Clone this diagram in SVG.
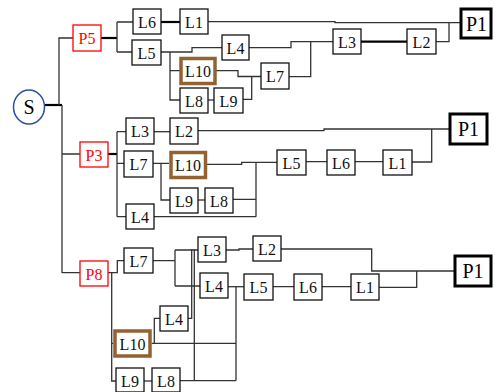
<svg xmlns="http://www.w3.org/2000/svg" width="495" height="392" viewBox="0 0 495 392">
<style>
.b{fill:#fff;stroke:#111;stroke-width:1.3}
.r{fill:#fff;stroke:#ff0000;stroke-width:1.3}
.br{fill:#fff;stroke:#946232;stroke-width:3.5}
.pb{fill:#fff;stroke:#000;stroke-width:3}
.t{font-family:"Liberation Serif","Times New Roman",serif;font-size:16px;fill:#111;text-anchor:middle}
.tr{font-family:"Liberation Serif","Times New Roman",serif;font-size:16px;fill:#ff0000;text-anchor:middle}
.tp{font-family:"Liberation Serif","Times New Roman",serif;font-size:20px;fill:#000;text-anchor:middle}
#connectors path{fill:none;stroke:#333;stroke-width:1.3}
#connectors path.k{stroke:#000;stroke-width:2.2}
</style>
<rect width="495" height="392" fill="#fff"/>
<g id="connectors">
<path class="k" d="M44,105 H62"/>
<path d="M59,105 V38 H73"/>
<path d="M62,105 V273 M62,154 H80 M62,272.7 H80"/>
<path class="k" d="M101,38 H117"/>
<path d="M117,22 V52 M117,22 H133 M117,52 H132"/>
<path class="k" d="M161,22 H180"/>
<path d="M208,21.7 H335 V22.7 H461"/>
<path d="M161,52 H192 V47.7 H222"/>
<path d="M170,52 V100 H180 M170,70.7 H181"/>
<path d="M215,70.7 H238 V76.5 H261"/>
<path d="M208,100 H214"/>
<path d="M243,99.3 H251.7 V76.5"/>
<path d="M249,47.7 H291 V41.7 H333"/>
<path d="M289,76.7 H310.7 V41.7"/>
<path class="k" d="M361,41.7 H407"/>
<path d="M436,41.7 H449 V22.7"/>
<path class="k" d="M108,154 H117"/>
<path d="M117,131.7 V216.7 M117,131.7 H126 M117,163.3 H124 M117,216.7 H126"/>
<path d="M154,131.7 H170"/>
<path d="M198,130.7 H324 V129 H450"/>
<path d="M153,163.3 H169 M161,163.3 V200 H170"/>
<path d="M207,164.3 H241.7 V162.3 H277"/>
<path d="M198,200 H205"/>
<path d="M233,199.3 H256 M256,162.3 V216.7 M154,216.7 H256"/>
<path d="M306,161.7 H327 M355,161.7 H383"/>
<path d="M412,162 H431.7 V129"/>
<path d="M108,272.7 H117.3 V260.7 H124"/>
<path d="M111.7,272.7 V381.7 M111.7,343.3 H113.3 M111.7,381 H116"/>
<path d="M153,260.7 H175 M175,250 V286 M175,250 H198 M175,286 H200"/>
<path d="M226,250 H239 V249 H253"/>
<path d="M281,249 H371.7 V271 H455"/>
<path d="M228,286.7 H244"/>
<path d="M273,286.7 H294 M322,286.7 H351"/>
<path d="M379,287.3 H416.7 V271"/>
<path d="M236,286.7 V380.7"/>
<path d="M151.7,343.3 H236"/>
<path d="M154.3,343.3 V318.3 H160"/>
<path d="M188,318.3 H191.7 V249.3"/>
<path d="M180,380.7 H236 M194.3,380.7 V249.3"/>
<path d="M144,381 H152"/>
</g>
<g id="S"><ellipse cx="29" cy="107" rx="15.5" ry="17" fill="#fff" stroke="#2e4e9e" stroke-width="1.5"/><text class="tp" x="29" y="114">S</text></g>
<g id="P5"><rect class="r" x="73" y="25" width="28" height="26"/><text class="tr" x="87" y="43.5">P5</text></g>
<g id="t-L6"><rect class="b" x="133" y="9" width="28" height="25"/><text class="t" x="147" y="27.5">L6</text></g>
<g id="t-L1"><rect class="b" x="180" y="9" width="28" height="25"/><text class="t" x="194" y="27.5">L1</text></g>
<g id="t-L5"><rect class="b" x="132" y="40" width="29" height="25"/><text class="t" x="146.5" y="58.5">L5</text></g>
<g id="t-L4"><rect class="b" x="222" y="35" width="27" height="25"/><text class="t" x="235.5" y="53.5">L4</text></g>
<g id="t-L10"><rect class="br" x="181" y="58.5" width="34" height="25"/><text class="t" x="198" y="77">L10</text></g>
<g id="t-L8"><rect class="b" x="180" y="88" width="28" height="25"/><text class="t" x="194" y="106.5">L8</text></g>
<g id="t-L9"><rect class="b" x="214" y="88" width="29" height="25"/><text class="t" x="228.5" y="106.5">L9</text></g>
<g id="t-L7"><rect class="b" x="261" y="63" width="28" height="26"/><text class="t" x="275" y="82">L7</text></g>
<g id="t-L3"><rect class="b" x="333" y="29" width="28" height="25"/><text class="t" x="347" y="47.5">L3</text></g>
<g id="t-L2"><rect class="b" x="407" y="29" width="29" height="25"/><text class="t" x="421.5" y="47.5">L2</text></g>
<g id="t-P1"><rect class="pb" x="461" y="9" width="30" height="29"/><text class="tp" x="476.5" y="30.5">P1</text></g>
<g id="P3"><rect class="r" x="80" y="142" width="28" height="25"/><text class="tr" x="94" y="160.5">P3</text></g>
<g id="m-L3"><rect class="b" x="126" y="118" width="28" height="26"/><text class="t" x="140" y="137">L3</text></g>
<g id="m-L2"><rect class="b" x="170" y="118" width="28" height="26"/><text class="t" x="184" y="137">L2</text></g>
<g id="m-L7"><rect class="b" x="124" y="151" width="29" height="26"/><text class="t" x="138.5" y="170">L7</text></g>
<g id="m-L10"><rect class="br" x="171" y="152.5" width="34.5" height="25"/><text class="t" x="188" y="171">L10</text></g>
<g id="m-L9"><rect class="b" x="170" y="188" width="28" height="25"/><text class="t" x="184" y="206.5">L9</text></g>
<g id="m-L8"><rect class="b" x="205" y="188" width="28" height="25"/><text class="t" x="219" y="206.5">L8</text></g>
<g id="m-L4"><rect class="b" x="126" y="204" width="28" height="25"/><text class="t" x="140" y="222.5">L4</text></g>
<g id="m-L5"><rect class="b" x="277" y="150" width="29" height="25"/><text class="t" x="291.5" y="168.5">L5</text></g>
<g id="m-L6"><rect class="b" x="327" y="150" width="28" height="25"/><text class="t" x="341" y="168.5">L6</text></g>
<g id="m-L1"><rect class="b" x="383" y="150" width="29" height="25"/><text class="t" x="397.5" y="168.5">L1</text></g>
<g id="m-P1"><rect class="pb" x="450" y="114" width="37" height="30"/><text class="tp" x="468.5" y="136">P1</text></g>
<g id="P8"><rect class="r" x="80" y="261" width="28" height="25"/><text class="tr" x="94" y="279.5">P8</text></g>
<g id="b-L7"><rect class="b" x="124" y="248" width="29" height="25"/><text class="t" x="138.5" y="266.5">L7</text></g>
<g id="b-L3"><rect class="b" x="198" y="237" width="28" height="25"/><text class="t" x="212" y="255.5">L3</text></g>
<g id="b-L4"><rect class="b" x="200" y="273" width="28" height="25"/><text class="t" x="214" y="291.5">L4</text></g>
<g id="b-L2"><rect class="b" x="253" y="236" width="28" height="25"/><text class="t" x="267" y="254.5">L2</text></g>
<g id="b-L5"><rect class="b" x="244" y="274" width="29" height="26"/><text class="t" x="258.5" y="293">L5</text></g>
<g id="b-L6"><rect class="b" x="294" y="274" width="28" height="26"/><text class="t" x="308" y="293">L6</text></g>
<g id="b-L1"><rect class="b" x="351" y="274" width="28" height="26"/><text class="t" x="365" y="293">L1</text></g>
<g id="b-P1"><rect class="pb" x="455" y="256" width="36" height="30"/><text class="tp" x="473" y="278">P1</text></g>
<g id="b-L4b"><rect class="b" x="160" y="306" width="28" height="25"/><text class="t" x="174" y="324.5">L4</text></g>
<g id="b-L10"><rect class="br" x="115" y="331" width="35" height="25"/><text class="t" x="132.5" y="349.5">L10</text></g>
<g id="b-L9"><rect class="b" x="116" y="368" width="28" height="24"/><text class="t" x="130" y="386.5">L9</text></g>
<g id="b-L8"><rect class="b" x="152" y="368" width="28" height="24"/><text class="t" x="166" y="386.5">L8</text></g>
</svg>
